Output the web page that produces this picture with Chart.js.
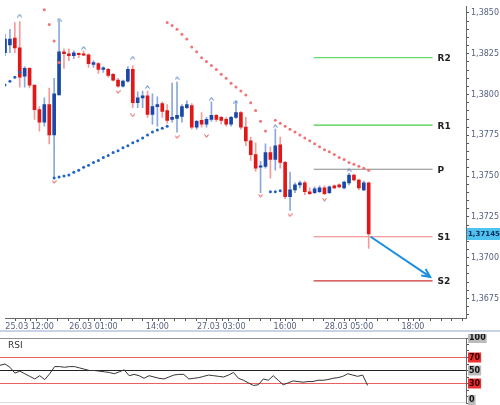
<!DOCTYPE html>
<html><head><meta charset="utf-8">
<script src="https://cdn.jsdelivr.net/npm/chart.js@4"></script>
<style>
body{margin:0;background:#fff;width:500px;height:405px;overflow:hidden;position:relative;font-family:"DejaVu Sans",sans-serif}
#c1{position:absolute;left:0;top:0}
#c2{position:absolute;left:0;top:334px}
#sep{position:absolute;left:0;top:330px;width:500px;height:2px;background:#c9d3e6}
#rsiLbl{position:absolute;left:8px;top:340px;font-size:9px;color:#333}
</style></head><body>
<canvas id="c1" width="500" height="330"></canvas>
<div id="sep"></div>
<canvas id="c2" width="500" height="71"></canvas>
<div id="rsiLbl">RSI</div>
<script>
// hourly candles, index 0 = 25.03 07:00
const opens  = [1.38256,1.38304,1.38346,1.38286,1.38112,1.38160,1.38058,1.37908,1.37830,1.37938,1.37752,1.37998,1.38262,1.38250,1.38238,1.38250,1.38250,1.38244,1.38184,1.38190,1.38154,1.38154,1.38124,1.38088,1.38052,1.38082,1.38154,1.37950,1.37980,1.37992,1.37878,1.37926,1.37944,1.37902,1.37848,1.37854,1.37866,1.37920,1.37932,1.37800,1.37842,1.37818,1.37848,1.37872,1.37860,1.37848,1.37818,1.37860,1.37890,1.37800,1.37716,1.37632,1.37554,1.37560,1.37644,1.37602,1.37692,1.37584,1.37374,1.37416,1.37446,1.37458,1.37404,1.37398,1.37404,1.37428,1.37398,1.37440,1.37446,1.37428,1.37458,1.37506,1.37476,1.37416,1.37458];
const highs  = [1.38370,1.38400,1.38442,1.38448,1.38172,1.38166,1.38058,1.37926,1.37980,1.38040,1.38100,1.38454,1.38280,1.38280,1.38268,1.38256,1.38268,1.38250,1.38208,1.38196,1.38172,1.38160,1.38130,1.38100,1.38088,1.38172,1.38178,1.38016,1.38022,1.38022,1.38004,1.37986,1.37956,1.37938,1.38070,1.38076,1.37938,1.37962,1.37944,1.37842,1.37890,1.37860,1.37956,1.37878,1.37866,1.37860,1.37866,1.37956,1.37896,1.37860,1.37740,1.37704,1.37590,1.37698,1.37680,1.37788,1.37740,1.37590,1.37524,1.37458,1.37470,1.37470,1.37428,1.37434,1.37440,1.37440,1.37440,1.37446,1.37452,1.37470,1.37518,1.37512,1.37482,1.37470,1.37464];
const lows   = [1.38238,1.38256,1.38256,1.38046,1.38046,1.38040,1.37848,1.37776,1.37806,1.37698,1.37488,1.37998,1.38160,1.38208,1.38220,1.38226,1.38238,1.38166,1.38166,1.38130,1.38136,1.38106,1.38082,1.38046,1.38046,1.38076,1.37920,1.37920,1.37920,1.37860,1.37818,1.37806,1.37860,1.37824,1.37830,1.37770,1.37830,1.37914,1.37788,1.37788,1.37800,1.37800,1.37836,1.37836,1.37818,1.37806,1.37806,1.37854,1.37788,1.37686,1.37596,1.37530,1.37398,1.37548,1.37488,1.37536,1.37548,1.37362,1.37290,1.37398,1.37428,1.37386,1.37386,1.37392,1.37398,1.37386,1.37392,1.37422,1.37428,1.37422,1.37446,1.37470,1.37416,1.37410,1.37056];
const closes = [1.38340,1.38340,1.38286,1.38106,1.38160,1.38058,1.37908,1.37830,1.37938,1.37752,1.38004,1.38262,1.38250,1.38238,1.38256,1.38244,1.38241,1.38190,1.38196,1.38154,1.38163,1.38118,1.38088,1.38052,1.38082,1.38154,1.37950,1.37980,1.37992,1.37878,1.37926,1.37938,1.37896,1.37842,1.37860,1.37872,1.37926,1.37938,1.37800,1.37836,1.37818,1.37848,1.37872,1.37848,1.37842,1.37818,1.37860,1.37890,1.37800,1.37716,1.37632,1.37548,1.37560,1.37644,1.37602,1.37686,1.37584,1.37374,1.37416,1.37446,1.37458,1.37404,1.37392,1.37422,1.37428,1.37392,1.37434,1.37428,1.37434,1.37464,1.37506,1.37476,1.37428,1.37458,1.37145];
// Parabolic SAR segments: [startIndex, values]
const sarBlue1 = [0,[1.38058,1.38082,1.38106,1.38136]];
const sarRed1  = [8,[1.38520,1.38430,1.38328,1.38196]];
const sarBlue2 = [10,[1.37488,1.37494,1.37500,1.37506,1.37524,1.37536,1.37554,1.37566,1.37584,1.37596,1.37614,1.37626,1.37644,1.37656,1.37674,1.37686,1.37704,1.37716,1.37734,1.37752,1.37770,1.37782,1.37794,1.37806]];
const sarRed2  = [33,[1.38442,1.38424,1.38400,1.38370,1.38340,1.38292,1.38262,1.38226,1.38202,1.38178,1.38154,1.38124,1.38100,1.38070,1.38046,1.38022,1.37998,1.37950,1.37902,1.37836,1.37776]];
const sarBlue3 = [54,[1.37404,1.37404,1.37410]];
const sarRed3  = [55,[1.37842,1.37824,1.37806,1.37788,1.37770,1.37752,1.37734,1.37716,1.37698,1.37680,1.37662,1.37650,1.37632,1.37614,1.37602,1.37584,1.37572,1.37560,1.37548,1.37536]];
// fractals
const upIdx = [3,11,16,26,29,35,42,47,55,70];
const upVal = [1.38484,1.38460,1.38286,1.38226,1.38046,1.38100,1.37974,1.37956,1.37806,1.37536];
const dnIdx = [10,23,26,35,41,52,58,65];
const dnVal = [1.37464,1.38016,1.37872,1.37740,1.37746,1.37380,1.37260,1.37356];
// pivots
const pivotNames = ["R2","R1","P","S1","S2"];
const pivotVals  = [1.38226,1.37812,1.37542,1.37128,1.36858];
const pivotColors= ["#66dd66","#44cc44","#888888","#f08080","#cc3333"];
const pivotFrom = 62.8, pivotTo = 87;
// forecast arrow
const trendX = [74.4,86.5];
const trendY = [1.37128,1.36882];
// x tick labels
const xTickIdx = [5,18,31,44,57,70,83];
const xTickLbl = ["25.03 12:00","26.03 01:00","14:00","27.03 03:00","16:00","28.03 05:00","18:00"];
const lastPrice = 1.37145;
// RSI
const rsi = [58,60,55,46,49,45,41,37,42,36,45,56,56,55,56,56,54,52,50,50,49,48,47,45,48,51,42,44,42,38,42,40,38,37,40,43,44,44,37,38,39,41,43,42,41,40,43,47,38,35,31,27,28,37,35,42,35,28,31,34,33,32,33,33,35,35,36,38,39,41,45,43,41,43,27];
const rsiLevels = [100,70,50,30,0];

const RED="#e01818", BLUE="#1a48a8", REDW="#f39a9a", BLUEW="#8aa8dc";
const up = closes.map((c,i)=>c>=opens[i]);
function seg(s){return s[1].map((v,k)=>({x:s[0]+k,y:v}));}
function chev(dir,color){
  const c=document.createElement('canvas');c.width=5;c.height=4;const g=c.getContext('2d');
  g.strokeStyle=color;g.lineWidth=1;g.beginPath();
  if(dir>0){g.moveTo(0.5,3.5);g.lineTo(2.5,0.7);g.lineTo(4.5,3.5);}else{g.moveTo(0.5,0.5);g.lineTo(2.5,3.3);g.lineTo(4.5,0.5);}
  g.stroke();return c;}
const XMAX = 93.8, YMIN=1.36630, YMAX=1.38538;

const datasets=[
 {type:'bar',data:lows.map((l,i)=>({x:i,y:[l,highs[i]]})),backgroundColor:up.map(u=>u?BLUEW:REDW),barThickness:1,grouped:false,order:5},
 {type:'bar',data:opens.map((o,i)=>({x:i,y:[Math.min(o,closes[i]),Math.max(o,closes[i])]})),backgroundColor:up.map(u=>u?BLUE:RED),barThickness:3,minBarLength:1.5,grouped:false,order:4},
];
[sarBlue1,sarBlue2,sarBlue3].forEach(s=>datasets.push({type:'scatter',data:seg(s),pointRadius:1.5,pointBackgroundColor:'#1f63c6',pointBorderWidth:0,order:3}));
[sarRed1,sarRed2,sarRed3].forEach(s=>datasets.push({type:'scatter',data:seg(s),pointRadius:1.5,pointBackgroundColor:'#f27474',pointBorderWidth:0,order:3}));
datasets.push({type:'scatter',data:upIdx.map((x,k)=>({x,y:upVal[k]})),pointStyle:chev(1,'#4a78c0'),order:2});
datasets.push({type:'scatter',data:dnIdx.map((x,k)=>({x,y:dnVal[k]})),pointStyle:chev(-1,'#e04848'),order:2});
pivotVals.forEach((v,k)=>datasets.push({type:'line',pivot:pivotNames[k],data:[{x:pivotFrom,y:v},{x:pivotTo,y:v}],borderColor:pivotColors[k],borderWidth:1.2,pointRadius:0,order:6}));
datasets.push({type:'line',id:'trend',data:trendX.map((x,k)=>({x,y:trendY[k]})),borderColor:'#1a8ee0',borderWidth:2,pointRadius:0,order:1});

const extras={id:'extras',afterDatasetsDraw(ch){
  const g=ch.ctx;
  ch.data.datasets.forEach((d,i)=>{
    const m=ch.getDatasetMeta(i);
    if(d.pivot){const p=m.data[1];g.save();g.font='bold 9px "DejaVu Sans"';g.fillStyle='#222';g.textBaseline='middle';g.fillText(d.pivot,p.x+5,p.y+1);g.restore();}
    if(d.id==='trend'){const a=m.data[0],b=m.data[1];const ang=Math.atan2(b.y-a.y,b.x-a.x);g.save();g.strokeStyle='#1a8ee0';g.lineWidth=2;g.beginPath();
      g.moveTo(b.x-9*Math.cos(ang-0.45),b.y-9*Math.sin(ang-0.45));g.lineTo(b.x,b.y);g.lineTo(b.x-9*Math.cos(ang+0.45),b.y-9*Math.sin(ang+0.45));g.stroke();g.restore();}
  });
  const ys=ch.scales.y, py=ys.getPixelForValue(lastPrice);
  g.save();g.fillStyle='#4fc3f0';g.fillRect(ys.left+1,py-6,34,12);g.fillStyle='#0a2a5a';g.font='bold 7px "DejaVu Sans"';g.textBaseline='middle';g.fillText(lastPrice.toFixed(5).replace('.',','),ys.left+2,py+0.5);g.restore();
}};

new Chart(document.getElementById('c1'),{
 data:{datasets},
 options:{responsive:false,animation:false,devicePixelRatio:1,
  layout:{padding:{top:0,left:0,right:0,bottom:0}},
  plugins:{legend:{display:false},tooltip:{enabled:false}},
  scales:{
   x:{type:'linear',min:0,max:XMAX,offset:false,
     afterBuildTicks(s){const t=[];for(let v=1;v<XMAX;v+=2.166)t.push({value:v});xTickIdx.forEach(v=>t.push({value:v}));s.ticks=t.sort((a,b)=>a.value-b.value);},
     ticks:{autoSkip:false,maxRotation:0,padding:1,font:{size:8,family:'"DejaVu Sans"'},color:'#556080',callback:v=>{const k=xTickIdx.indexOf(v);return k>=0?xTickLbl[k]:'';}},
     grid:{drawOnChartArea:false,drawTicks:true,tickLength:3,color:'#555'},
     border:{display:true,color:'#666'},afterFit(s){s.height=12;}},
   y:{position:'right',min:YMIN,max:YMAX,
     afterBuildTicks(s){const t=[];for(let v=1.3665;v<YMAX;v+=0.0005)t.push({value:Math.round(v*10000)/10000});s.ticks=t;},
     ticks:{autoSkip:false,padding:2,font:{size:8,family:'"DejaVu Sans"'},color:'#556080',callback:v=>Math.abs(Math.round(v*10000)%25)===0?v.toFixed(4).replace('.',','):''},
     grid:{drawOnChartArea:false,drawTicks:true,tickLength:3,color:'#555'},
     border:{display:true,color:'#666'},afterFit(s){s.width=34;}}
  }},
 plugins:[extras]});

const rsiPlug={id:'rsiPlug',afterDraw(ch){
  const g=ch.ctx,ys=ch.scales.y,a=ch.chartArea;
  g.save();g.font='bold 8px "DejaVu Sans"';g.textBaseline='middle';
  rsiLevels.forEach(l=>{let py=ys.getPixelForValue(l);py=Math.min(py,ch.height-5);const txt=String(l);const w=g.measureText(txt).width;
    if(l===70||l===30){g.fillStyle='#e83030';g.fillRect(a.right+2,py-5,w+2,10);g.fillStyle='#330000';}else{g.fillStyle='#bbb';g.fillRect(a.right+2,py-5,w+2,10);g.fillStyle='#111';}
    g.fillText(txt,a.right+3,py);});
  g.restore();}};
new Chart(document.getElementById('c2'),{
 data:{datasets:[
  {type:'line',data:rsi.map((v,i)=>({x:i,y:v})),borderColor:'#333',borderWidth:1,pointRadius:0,tension:0,order:1},
  ...rsiLevels.map(l=>({type:'line',data:[{x:0,y:l},{x:XMAX,y:l}],borderColor:(l===70||l===30)?'#e86060':(l===0?'#bbb':'#222'),borderWidth:1,pointRadius:0,order:2}))
 ]},
 options:{responsive:false,animation:false,devicePixelRatio:1,
  layout:{padding:{top:4,bottom:2}},
  plugins:{legend:{display:false},tooltip:{enabled:false}},
  scales:{x:{type:'linear',min:0,max:XMAX,display:false},
   y:{position:'right',min:0,max:100,ticks:{display:false},afterBuildTicks(s){s.ticks=[0,10,20,30,40,50,60,70,80,90,100].map(v=>({value:v}));},
     grid:{drawOnChartArea:false,tickLength:3,color:'#555'},border:{color:'#666'},afterFit(s){s.width=34;}}}},
 plugins:[rsiPlug]});
</script></body></html>
